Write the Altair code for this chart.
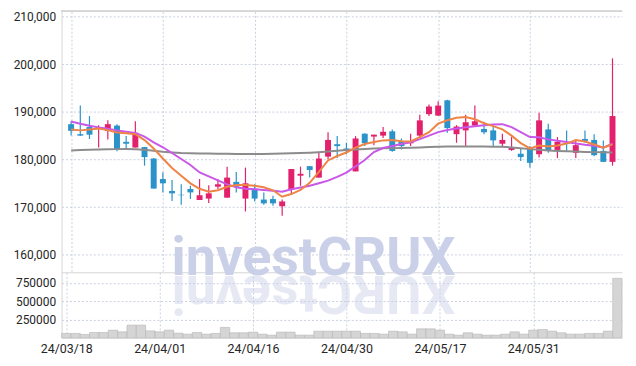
import altair as alt
import pandas as pd

dates = ["24/03/18","24/03/19","24/03/20","24/03/21","24/03/22","24/03/25","24/03/26","24/03/27","24/03/28","24/03/29",
         "24/04/01","24/04/02","24/04/03","24/04/04","24/04/05","24/04/08","24/04/09","24/04/11","24/04/12","24/04/15",
         "24/04/16","24/04/17","24/04/18","24/04/19","24/04/22","24/04/23","24/04/24","24/04/25","24/04/26","24/04/29",
         "24/04/30","24/05/02","24/05/03","24/05/07","24/05/08","24/05/09","24/05/10","24/05/13","24/05/14","24/05/16",
         "24/05/17","24/05/20","24/05/21","24/05/22","24/05/23","24/05/24","24/05/27","24/05/28","24/05/29","24/05/30",
         "24/05/31","24/06/03","24/06/04","24/06/05","24/06/07","24/06/10","24/06/11","24/06/12","24/06/13","24/06/14"]

opens = [187400,185300,186800,186400,186000,187100,183700,182500,182600,180200,
         175900,173400,172600,173800,171500,171800,174300,172000,175300,171800,
         173900,171600,171700,170200,173700,176600,178600,176200,180600,183200,
         182300,177500,185400,184800,185000,185900,183900,183400,185000,189500,
         189200,192400,185300,186100,187100,186400,186100,183300,182000,181200,
         182500,181100,186300,182000,183500,181400,184300,184100,181800,179500]
highs = [188000,191300,189100,187200,188200,187400,184900,188000,182600,180300,
         177300,175700,174800,174500,175900,174600,175900,178500,177400,178300,
         174800,173100,172400,171600,178000,178500,178600,181600,185700,184900,
         183500,184900,185500,185200,186800,186300,184400,185400,189400,191500,
         192200,192500,187200,189400,191300,187900,187000,185400,184700,182300,
         182800,189800,187500,184700,186100,183900,186100,185300,184000,201200]
lows = [185000,184900,184300,182500,184200,181700,182100,182500,178700,173900,
        173100,171300,170500,171700,171500,170900,173800,172000,173100,169100,
        171200,170500,170300,168200,172700,174500,176200,176200,180000,180300,
        181100,177500,182800,183000,184500,181600,182100,182800,184500,189100,
        189100,185600,183500,182800,187000,185300,182700,182500,181800,179700,
        178300,180400,181400,180300,181800,180300,183500,180700,179500,178700]
closes = [186000,185000,185200,186800,187400,182100,183300,185600,180500,173900,
          175000,172900,172500,173100,172500,172900,174800,176200,174300,175000,
          171800,170800,170800,171200,178000,177000,177800,180200,184100,182800,
          181800,184400,183400,185200,185800,181800,182800,183800,188200,191100,
          191300,186600,186900,187800,188000,185700,184000,184100,182500,180500,
          179300,188200,181900,183700,183300,183000,183900,180900,179500,189100]
volumes = [59000,59000,45000,72000,72000,104000,81000,172000,172000,94000,
           81000,104000,63000,49000,72000,49000,59000,141000,68000,68000,
           77000,49000,36000,77000,77000,36000,36000,90000,90000,90000,
           90000,90000,59000,59000,49000,90000,81000,49000,122000,122000,
           104000,49000,36000,68000,49000,36000,36000,49000,81000,49000,
           104000,113000,90000,68000,49000,49000,59000,59000,90000,810000]
ma_short = [186270,186100,186290,186480,186150,185650,185480,185310,184060,182290,
            180210,178230,176600,175000,173850,173230,173540,174270,174630,174650,
            174480,174170,173540,172190,172750,173600,175100,177400,179790,180730,
            181460,182500,183230,183650,184000,184100,183810,183790,184690,185730,
            187500,188230,188750,188900,188440,187600,186980,186310,185000,183440,
            182330,182920,182710,182920,183330,184060,183750,183130,182460,183170]
ma_mid = [187960,187480,187060,186730,186440,186100,185810,185560,184790,183580,
          182560,181350,180100,178850,177290,176460,175630,174790,174170,173850,
          173750,173600,173440,173230,173750,174130,174480,175000,175560,176350,
          177250,178540,179900,181560,182400,182810,183230,183600,184270,185000,
          185730,186190,186500,186770,186980,187190,187350,187400,186770,185730,
          184690,184650,184210,183920,183650,183330,183080,182880,182460,183290]
ma_long = [181870,181980,182040,182100,182120,182170,182190,182150,182020,181810,
           181600,181460,181350,181290,181250,181230,181210,181190,181170,181150,
           181150,181150,181190,181230,181290,181350,181420,181520,181650,181810,
           181980,182100,182210,182310,182350,182380,182400,182440,182520,182600,
           182670,182710,182730,182730,182730,182710,182690,182650,182520,182350,
           182170,182020,181900,181790,181710,181650,181580,181540,181500,181460]
tick_dates = ["24/03/18", "24/04/01", "24/04/16", "24/04/30", "24/05/17", "24/05/31"]
price_ticks = [160000, 170000, 180000, 190000, 200000, 210000]
volume_ticks = [250000, 500000, 750000]
watermark = "investCRUX"

UP, DOWN = "#e2206c", "#2b93c9"
GRID = "#c9cfe2"
EDGE = "#d6d6d6"
W, H_MAIN, H_VOL = 565, 263, 66

n = len(dates)
df = pd.DataFrame({
    "idx": list(range(n)), "date": dates, "open": opens, "high": highs,
    "low": lows, "close": closes, "volume": volumes,
    "ma5": ma_short, "ma20": ma_mid, "ma60": ma_long,
})
df["dir"] = ["up" if c >= o else "down" for o, c in zip(opens, closes)]

tick_idx = [dates.index(d) for d in tick_dates]
label_expr = "[" + ",".join("'" + d + "'" for d in dates) + "][datum.value]"

xs = alt.Scale(domain=[-0.5, n - 0.5], nice=False, zero=False)
ys = alt.Scale(domain=[156350, 211040], nice=False, zero=False)
color = alt.Color("dir:N", scale=alt.Scale(domain=["up", "down"], range=[UP, DOWN]), legend=None)

base = alt.Chart(df)

x_axis_main = alt.Axis(values=tick_idx, labels=False, ticks=False, domain=True,
                       domainColor=EDGE, grid=True, gridColor=GRID, gridDash=[2, 2])
y_axis_main = alt.Axis(values=price_ticks, labelExpr="format(datum.value, ',')", ticks=False,
                       domain=True, domainColor=EDGE, grid=True, gridColor=GRID,
                       gridDash=[2, 2], labelPadding=6)


def xm():
    return alt.X("idx:Q", scale=xs, title=None, axis=x_axis_main)


def ym(field):
    return alt.Y(field, scale=ys, title=None, axis=y_axis_main)


wm = alt.Chart(pd.DataFrame({"t": [watermark]})).mark_text(
    font="Roboto", fontSize=54, fontWeight="bold", color="#c9d0e8",
    align="center", baseline="alphabetic"
).encode(x=alt.value(254), y=alt.value(266), text="t:N")

top_rule = base.mark_rule(color=EDGE).encode(x=alt.value(0), x2=alt.value(W), y=alt.value(0))

wicks = base.mark_rule(strokeWidth=1.2).encode(x=xm(), y=ym("low:Q"), y2="high:Q", color=color)
bodies = base.mark_bar(size=6).encode(x=xm(), y=ym("open:Q"), y2="close:Q", color=color)

line60 = base.mark_line(color="#8c8c8c", strokeWidth=2).encode(x=xm(), y=ym("ma60:Q"))
line20 = base.mark_line(color="#c957e8", strokeWidth=2).encode(x=xm(), y=ym("ma20:Q"))
line5 = base.mark_line(color="#ef8447", strokeWidth=2).encode(x=xm(), y=ym("ma5:Q"))

main = alt.layer(wm, top_rule, wicks, bodies, line60, line20, line5).properties(width=W, height=H_MAIN)

wm_ref = alt.Chart(pd.DataFrame({"t": [watermark[::-1]]})).mark_text(
    font="Roboto", fontSize=54, fontWeight="bold", color="#c9d0e8", opacity=0.45,
    align="center", baseline="alphabetic", angle=180
).encode(x=alt.value(254), y=alt.value(4), text="t:N")

x_vol = alt.X("x0:Q", scale=xs, title=None,
              axis=alt.Axis(values=tick_idx, labelExpr=label_expr, ticks=False, domain=True,
                            domainColor=EDGE, grid=True, gridColor=GRID, gridDash=[2, 2],
                            labelPadding=5, labelFontSize=12.5))
vol_bars = base.transform_calculate(
    x0="datum.idx - 0.5", x1="datum.idx + 0.5", v0="0"
).mark_bar(fill="#d5d5d5", stroke="#b5b5b5", strokeWidth=0.6).encode(
    x=x_vol, x2="x1:Q",
    y=alt.Y("volume:Q", title=None, stack=None,
            scale=alt.Scale(domain=[0, 892000], nice=False, zero=True),
            axis=alt.Axis(values=volume_ticks, format="d", ticks=False, domain=True,
                          domainColor=EDGE, grid=True, gridColor=GRID, gridDash=[2, 2],
                          labelPadding=6)),
    y2="v0:Q",
)
vol = alt.layer(wm_ref, vol_bars).properties(width=W, height=H_VOL)

chart = alt.vconcat(main, vol, spacing=0, bounds="flush").properties(
    padding={"left": 5, "top": 1, "right": 5, "bottom": 5}
).configure_view(stroke=None).configure_axis(
    labelFont="Roboto", labelFontSize=12, labelColor="#262626"
)

chart.save("out.html", embed_options={"renderer": "svg", "actions": False})
